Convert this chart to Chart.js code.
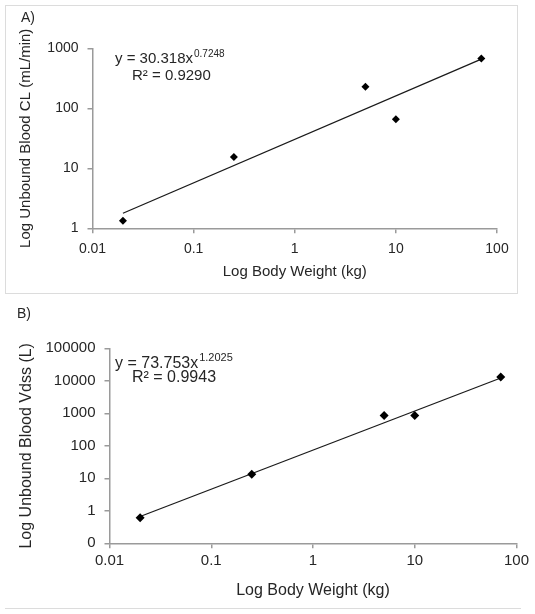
<!DOCTYPE html>
<html>
<head>
<meta charset="utf-8">
<script src="https://cdn.jsdelivr.net/npm/chart.js@4.4.1/dist/chart.umd.min.js"></script>
<style>
html,body{margin:0;padding:0;background:#fff;}
body{width:535px;height:614px;position:relative;overflow:hidden;font-family:"Liberation Sans",Arial,sans-serif;color:#262626;}
.box{position:absolute;left:0;width:535px;}
#boxA{top:0;height:295px;}
#boxB{top:300px;height:314px;}
.frameA{position:absolute;left:5px;top:5px;width:511px;height:287px;border:1px solid #dcdcdc;}
.lineB{position:absolute;left:5px;top:608px;width:516px;border-top:1px solid #dcdcdc;}
.tag{position:absolute;font-size:14px;line-height:16px;}
</style>
</head>
<body>
<div class="frameA"></div>
<div class="lineB"></div>
<div class="box" id="boxA"><canvas id="chartA" width="535" height="295"></canvas></div>
<div class="box" id="boxB"><canvas id="chartB" width="535" height="314"></canvas></div>
<div class="tag" style="left:21px;top:9px;">A)</div>
<div class="tag" style="left:17px;top:305px;">B)</div>
<script>
// ----- data -----
const bodyWeight = [0.02, 0.25, 5, 10, 70];           // kg
const clValues   = [1.34, 15.4, 229, 66, 676];         // mL/min
const vdssValues = [0.61, 13.3, 860, 860, 13000];      // L
const fitX       = [0.02, 70];                         // trendline ends
const clFit      = [1.78, 659];
const vdssFit    = [0.668, 12200];
const xTicks     = [0.01, 0.1, 1, 10, 100];
const clTicks    = [1, 10, 100, 1000];
const vdssTicks  = [0.1, 1, 10, 100, 1000, 10000, 100000];
const clEq       = ["y = 30.318x", "0.7248", "R\u00b2 = 0.9290"];
const vdssEq     = ["y = 73.753x", "1.2025", "R\u00b2 = 0.9943"];

const FONT = '"Liberation Sans", Arial, sans-serif';
const INK = "#262626", AXIS = "#9a9a9a";
const pts = (xs, ys)=> xs.map((x,i)=>({x, y: ys[i]}));

// equation + R² drawn as text inside the plot
function eqPlugin(eq, size, supSize, y1, y2){
  return {
    id: "eq",
    afterDraw(chart){
      const c = chart.ctx;
      c.save();
      c.fillStyle = INK;
      c.textBaseline = "alphabetic";
      c.font = `${size}px ${FONT}`;
      c.fillText(eq[0], 115, y1);
      const w = c.measureText(eq[0]).width;
      c.font = `${supSize}px ${FONT}`;
      c.fillText(eq[1], 115 + w + 1, y1 - size*0.38);
      c.font = `${size}px ${FONT}`;
      c.fillText(eq[2], 132, y2);
      c.restore();
    }
  };
}

function makeChart(id, yVals, yFit, yTicks, o){
  const fmtY = (v)=> (o.zeroBottom && v < 1) ? "0" : String(v);
  return new Chart(document.getElementById(id), {
    type: "scatter",
    data: {
      datasets: [
        { data: pts(bodyWeight, yVals), pointStyle: "rectRot", pointRadius: o.r,
          backgroundColor: "#000", borderColor: "#000", borderWidth: 0, showLine: false },
        { data: pts(fitX, yFit), showLine: true, pointRadius: 0,
          borderColor: "#1a1a1a", borderWidth: 1.3, fill: false }
      ]
    },
    options: {
      responsive: false, animation: false,
      layout: { padding: { left: 0, right: o.right, top: o.top, bottom: 0 } },
      plugins: { legend: { display: false }, tooltip: { enabled: false } },
      scales: {
        x: {
          type: "logarithmic", min: 0.01, max: 100,
          afterBuildTicks: (s)=>{ s.ticks = xTicks.map(v=>({value:v})); },
          afterFit: (s)=>{ s.height = o.xH; },
          ticks: { callback: (v)=> String(v), color: INK, font: { family: FONT, size: o.tick },
                   padding: o.xPad, maxRotation: 0, autoSkip: false },
          grid: { drawOnChartArea: false, tickLength: 5, color: AXIS, lineWidth: 1.5 },
          border: { color: AXIS, width: 1.5 },
          title: { display: true, text: "Log Body Weight (kg)", color: INK,
                   font: { family: FONT, size: o.title }, padding: { top: 0, bottom: o.titlePad } }
        },
        y: {
          type: "logarithmic", min: yTicks[0], max: yTicks[yTicks.length-1],
          afterBuildTicks: (s)=>{ s.ticks = yTicks.map(v=>({value:v})); },
          afterFit: (s)=>{ s.width = o.yW; },
          ticks: { callback: fmtY, color: INK, font: { family: FONT, size: o.tick },
                   padding: 9, autoSkip: false },
          grid: { drawOnChartArea: false, tickLength: 5, color: AXIS, lineWidth: 1.5 },
          border: { color: AXIS, width: 1.5 },
          title: { display: true, text: o.yTitle, color: INK,
                   font: { family: FONT, size: o.title }, padding: { top: 17, bottom: 0 } }
        }
      }
    },
    plugins: [ eqPlugin(o.eq, o.eqSize, o.supSize, o.eqY1, o.eqY2) ]
  });
}

makeChart("chartA", clValues, clFit, clTicks, {
  yTitle: "Log Unbound Blood CL (mL/min)", yW: 92.5, right: 38, top: 48.3, xH: 66.7,
  tick: 14, title: 15, titlePad: 14, xPad: 7, r: 4,
  eq: clEq, eqSize: 15, supSize: 10, eqY1: 63, eqY2: 80
});

makeChart("chartB", vdssValues, vdssFit, vdssTicks, {
  yTitle: "Log Unbound Blood Vdss (L)", yW: 109.5, right: 18.5, top: 48.3, xH: 70.7,
  tick: 15, title: 16, titlePad: 14, xPad: 4, r: 4.5, zeroBottom: true,
  eq: vdssEq, eqSize: 16, supSize: 11, eqY1: 67.5, eqY2: 81.5
});
</script>
</body>
</html>
